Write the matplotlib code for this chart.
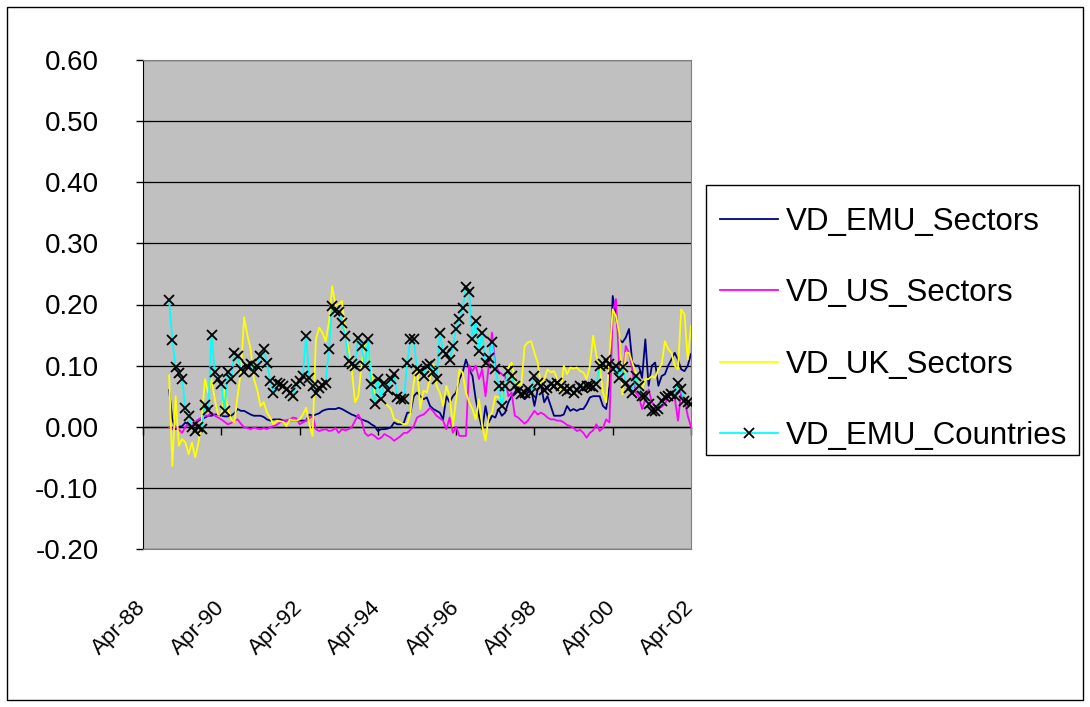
import numpy as np
import matplotlib
matplotlib.use("Agg")
import matplotlib.pyplot as plt
from matplotlib.patches import Rectangle
from matplotlib.lines import Line2D

plt.rcParams['font.family'] = ['Liberation Sans', 'DejaVu Sans']

# month index: 0 = Apr-88 ... 168 = Apr-02
start_month = 8
end_month = 168

xtick_months = [0, 24, 48, 72, 96, 120, 144, 168]
xtick_labels = ["Apr-88", "Apr-90", "Apr-92", "Apr-94", "Apr-96", "Apr-98", "Apr-00", "Apr-02"]
yticks = [-0.20, -0.10, 0.00, 0.10, 0.20, 0.30, 0.40, 0.50, 0.60]

vd_emu_sectors = [
    0.060, 0.012, -0.004, 0.000, 0.001, 0.007, 0.003, 0.000, 0.004, 0.010,
    0.012, 0.015, 0.018, 0.018, 0.020, 0.020, 0.018, 0.017, 0.017, 0.018,
    0.022, 0.029, 0.026, 0.026, 0.023, 0.020, 0.018, 0.018, 0.018, 0.016,
    0.012, 0.010, 0.012, 0.012, 0.012, 0.010, 0.010, 0.011, 0.010, 0.010,
    0.010, 0.010, 0.010, 0.020, 0.018, 0.020, 0.022, 0.026, 0.028, 0.029,
    0.029, 0.029, 0.031, 0.029, 0.026, 0.023, 0.020, 0.018, 0.015, 0.012,
    0.010, 0.008, 0.004, 0.001, -0.007, -0.004, -0.004, -0.003, -0.001, 0.007,
    0.004, 0.004, 0.007, 0.023, 0.023, 0.050, 0.056, 0.050, 0.045, 0.048,
    0.034, 0.029, 0.026, 0.023, 0.012, 0.050, 0.040, 0.050, 0.056, 0.078,
    0.089, 0.110, 0.094, 0.083, 0.045, 0.018, -0.004, 0.034, 0.007, 0.018,
    0.015, 0.029, 0.018, 0.023, 0.040, 0.050, 0.056, 0.067, 0.050, 0.045,
    0.056, 0.061, 0.034, 0.061, 0.067, 0.040, 0.050, 0.034, 0.018, 0.018,
    0.018, 0.020, 0.034, 0.026, 0.029, 0.026, 0.029, 0.029, 0.037, 0.048,
    0.050, 0.050, 0.050, 0.034, 0.029, 0.067, 0.214, 0.181, 0.143, 0.138,
    0.146, 0.160, 0.105, 0.100, 0.100, 0.080, 0.143, 0.067, 0.100, 0.105,
    0.067, 0.083, 0.086, 0.100, 0.110, 0.121, 0.110, 0.094, 0.091, 0.100,
    0.119,
]

vd_us_sectors = [
    -0.001, -0.004, 0.000, -0.005, -0.010, 0.000, 0.004, 0.002, 0.008, 0.012,
    0.015, 0.018, 0.018, 0.023, 0.018, 0.015, 0.012, 0.008, 0.004, 0.006,
    0.010, 0.012, 0.005, -0.001, -0.002, -0.004, -0.001, -0.003, -0.004, -0.002,
    -0.004, -0.001, 0.001, 0.003, 0.007, 0.009, 0.010, 0.012, 0.015, 0.014,
    0.004, 0.007, 0.010, 0.014, 0.018, -0.004, -0.007, -0.005, -0.004, -0.007,
    -0.006, -0.002, -0.010, -0.004, -0.006, -0.004, -0.001, 0.010, 0.020, 0.010,
    -0.010, -0.015, -0.012, -0.015, -0.020, -0.018, -0.012, -0.015, -0.018, -0.023,
    -0.019, -0.015, -0.010, -0.010, -0.005, 0.001, 0.015, 0.018, 0.020, 0.025,
    0.031, 0.025, 0.018, 0.014, 0.010, -0.004, 0.015, -0.010, 0.000, -0.015,
    -0.015, -0.015, 0.100, 0.091, 0.100, 0.078, 0.094, 0.050, 0.100, 0.154,
    0.100, 0.091, 0.086, 0.083, 0.050, 0.056, 0.018, 0.015, 0.010, 0.005,
    0.010, 0.018, 0.026, 0.020, 0.023, 0.020, 0.015, 0.012, 0.012, 0.010,
    0.010, 0.007, 0.003, 0.001, -0.002, -0.007, -0.005, -0.010, -0.018, -0.010,
    -0.006, 0.004, -0.007, -0.002, 0.012, 0.007, 0.187, 0.209, 0.100, 0.078,
    0.132, 0.121, 0.094, 0.056, 0.050, 0.029, 0.045, 0.061, 0.040, 0.034,
    0.029, 0.033, 0.037, 0.050, 0.045, 0.048, 0.010, 0.056, 0.045, 0.018,
    0.000,
]

vd_uk_sectors = [
    0.084, -0.064, 0.050, -0.031, -0.020, -0.026, -0.045, -0.026, -0.050, -0.026,
    0.012, 0.078, 0.056, 0.078, 0.045, 0.020, 0.018, 0.061, 0.030, 0.012,
    0.007, 0.050, 0.090, 0.179, 0.150, 0.127, 0.078, 0.061, 0.034, 0.040,
    0.023, 0.015, 0.004, 0.010, 0.009, 0.008, 0.001, 0.012, 0.010, 0.010,
    0.012, 0.020, 0.031, 0.004, -0.015, 0.143, 0.162, 0.154, 0.140, 0.171,
    0.230, 0.198, 0.200, 0.206, 0.154, 0.127, 0.094, 0.040, 0.050, 0.100,
    0.138, 0.132, 0.089, 0.056, 0.050, 0.045, 0.040, 0.035, 0.029, 0.012,
    0.010, 0.007, 0.004, 0.005, 0.023, 0.072, 0.100, 0.029, 0.059, 0.056,
    0.080, 0.102, 0.067, 0.056, 0.034, 0.067, 0.050, 0.001, 0.045, 0.094,
    0.089, 0.056, 0.040, 0.029, 0.012, 0.045, 0.001, -0.023, 0.018, 0.023,
    0.050, 0.048, 0.045, 0.060, 0.097, 0.105, 0.078, 0.067, 0.070, 0.132,
    0.138, 0.140, 0.121, 0.105, 0.067, 0.078, 0.094, 0.089, 0.091, 0.078,
    0.056, 0.100, 0.086, 0.097, 0.095, 0.097, 0.091, 0.089, 0.078, 0.100,
    0.149, 0.116, 0.100, 0.056, 0.040, 0.116, 0.192, 0.181, 0.154, 0.053,
    0.121, 0.121, 0.105, 0.089, 0.067, 0.061, 0.078, 0.078, 0.083, 0.080,
    0.094, 0.102, 0.140, 0.127, 0.121, 0.100, 0.094, 0.192, 0.184, 0.110,
    0.165,
]

vd_emu_countries = [
    0.207, 0.142, 0.097, 0.088, 0.078, 0.030, 0.018, 0.000, -0.007, 0.000,
    -0.003, 0.035, 0.028, 0.150, 0.090, 0.078, 0.070, 0.026, 0.089, 0.078,
    0.121, 0.116, 0.094, 0.089, 0.100, 0.102, 0.089, 0.100, 0.115, 0.127,
    0.104, 0.075, 0.056, 0.072, 0.070, 0.067, 0.061, 0.055, 0.050, 0.070,
    0.075, 0.083, 0.149, 0.080, 0.067, 0.056, 0.064, 0.068, 0.072, 0.127,
    0.198, 0.190, 0.187, 0.170, 0.149, 0.108, 0.102, 0.100, 0.146, 0.132,
    0.100, 0.143, 0.070, 0.037, 0.078, 0.045, 0.072, 0.060, 0.078, 0.086,
    0.048, 0.045, 0.045, 0.105, 0.143, 0.143, 0.094, 0.091, 0.083, 0.100,
    0.102, 0.090, 0.078, 0.154, 0.124, 0.119, 0.110, 0.132, 0.160, 0.176,
    0.195, 0.228, 0.220, 0.143, 0.173, 0.124, 0.154, 0.105, 0.113, 0.138,
    0.094, 0.067, 0.034, 0.067, 0.091, 0.083, 0.067, 0.059, 0.053, 0.055,
    0.061, 0.056, 0.083, 0.072, 0.067, 0.060, 0.064, 0.070, 0.067, 0.072,
    0.067, 0.061, 0.059, 0.061, 0.056, 0.060, 0.067, 0.064, 0.067, 0.067,
    0.065, 0.070, 0.100, 0.102, 0.110, 0.102, 0.094, 0.100, 0.080, 0.097,
    0.072, 0.064, 0.056, 0.083, 0.067, 0.050, 0.050, 0.037, 0.026, 0.026,
    0.029, 0.042, 0.048, 0.050, 0.053, 0.050, 0.072, 0.061, 0.042, 0.040,
    0.037,
]

months = np.arange(start_month, end_month + 1)

W, H = 1090, 707
fig = plt.figure(figsize=(W / 100, H / 100), dpi=100)
ax = fig.add_axes([143 / W, 1 - 549 / H, 548 / W, 489 / H])
ax.set_facecolor('#C0C0C0')

ax.plot(months, vd_emu_sectors, color='#000080', lw=1.3, label='VD_EMU_Sectors', zorder=3)
ax.plot(months, vd_us_sectors, color='#FF00FF', lw=1.3, label='VD_US_Sectors', zorder=3)
ax.plot(months, vd_uk_sectors, color='#FFFF00', lw=1.3, label='VD_UK_Sectors', zorder=3)
ax.plot(months, vd_emu_countries, color='#00FFFF', lw=1.3, marker='x', markersize=7.5,
        markeredgecolor='black', markeredgewidth=1.3, label='VD_EMU_Countries', zorder=4)

ax.set_xlim(0, 168)
ax.set_ylim(-0.2, 0.6)
ax.set_yticks(yticks)
ax.set_yticklabels([f"{v:.2f}" for v in yticks], fontsize=20)
ax.yaxis.grid(True, color='black', lw=0.9)
ax.set_axisbelow(True)
ax.tick_params(axis='y', direction='out', length=5, width=1, pad=27)

ax.set_xticks(xtick_months)
ax.set_xticklabels(xtick_labels, fontsize=16, rotation=45, ha='right', va='center',
                   rotation_mode='anchor')
ax.tick_params(axis='x', length=0, pad=40)

for s in ['top', 'right']:
    ax.spines[s].set_color('#808080')
ax.spines['left'].set_color('black')
ax.spines['bottom'].set_color('#808080')

sec = ax.secondary_xaxis(0.25)
sec.set_xticks(xtick_months)
sec.tick_params(axis='x', direction='out', length=6, width=1, color='black',
                labelbottom=False, labeltop=False)
sec.spines['bottom'].set_color('black')
sec.spines['bottom'].set_linewidth(1)

handles, labels = ax.get_legend_handles_labels()
leg_handles = []
for h in handles:
    leg_handles.append(Line2D([], [], color=h.get_color(), lw=1.3,
                              marker=h.get_marker(), markersize=7,
                              markeredgecolor='black', markeredgewidth=1.3))
leg = fig.legend(leg_handles, labels, loc='upper left',
                 bbox_to_anchor=(706 / W, 1 - 193 / H), fontsize=22.5,
                 frameon=False,
                 labelspacing=1.32, handlelength=1.85, handletextpad=0.25,
                 borderpad=0.45, borderaxespad=0, numpoints=1)

# legend box
fig.patches.append(Rectangle((706 / W, 1 - 455 / H), (1079 - 706) / W, (455 - 185) / H,
                             transform=fig.transFigure, fill=False,
                             edgecolor='black', lw=1))
# outer chart border
fig.patches.append(Rectangle((7 / W, 7 / H), (1083 - 7) / W, (700 - 7) / H,
                             transform=fig.transFigure, fill=False,
                             edgecolor='black', lw=1))

fig.savefig('out.png', dpi=100, facecolor='white')
